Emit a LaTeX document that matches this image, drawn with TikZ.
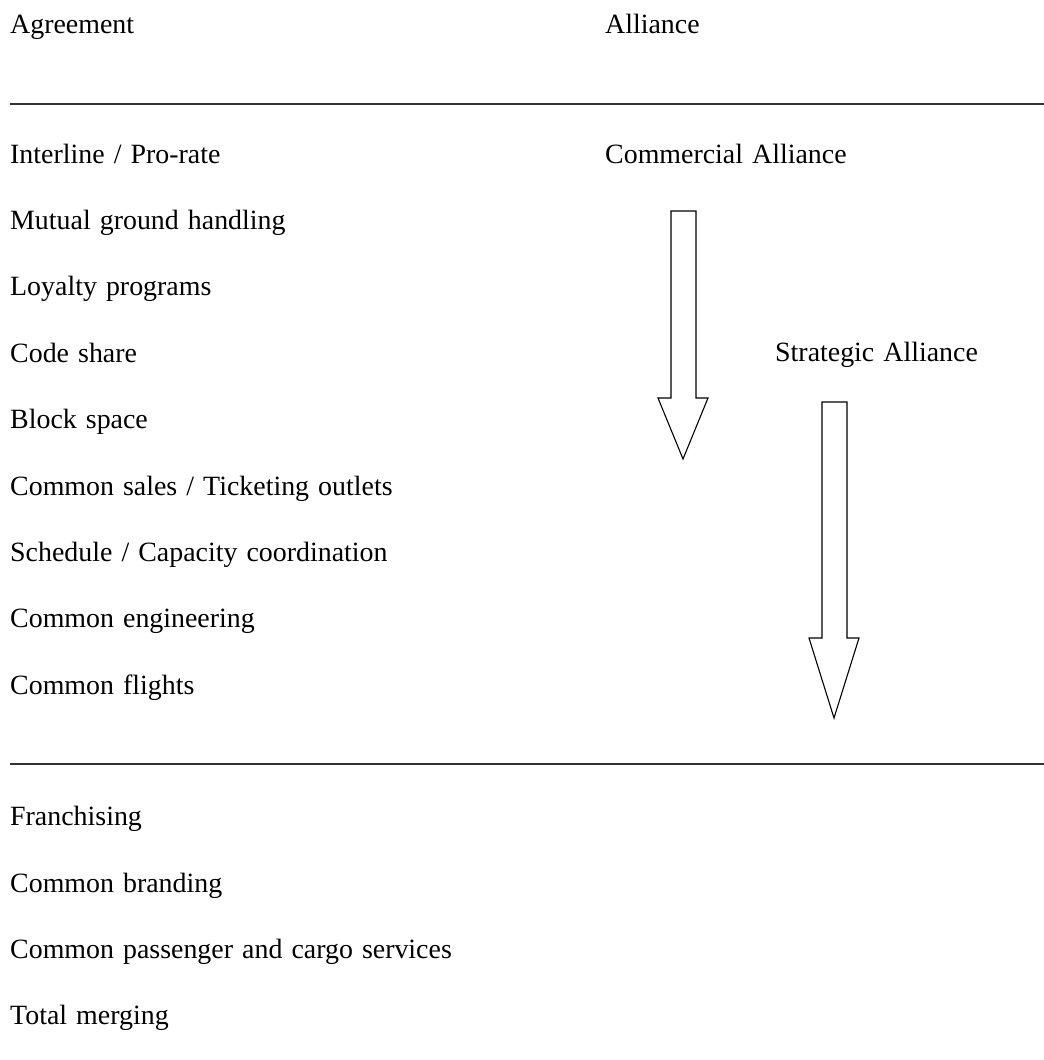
\documentclass[tikz,border=0pt]{standalone}
\usepackage{fontspec}
\setmainfont[WordSpace={1.3,1,1}]{Liberation Serif}
\usetikzlibrary{positioning}

\begin{document}
\begin{tikzpicture}[x=1bp,y=-1bp,node distance=40bp]
\tikzstyle{row}=[inner sep=0pt,text height=20bp,text depth=6bp,font=\fontsize{28}{32}\selectfont]
\tikzstyle{rule}=[line width=1.8bp,black!80]
\tikzstyle{blockarrow}=[line width=1.1bp,black,fill=white,line join=miter]
    \useasboundingbox (0,0) rectangle (1044,1060);
    \node[row,anchor=base west] (agree) at (10,33) {Agreement};
    \node[row,anchor=base west] (alli) at (605,33) {Alliance};
    \coordinate (top l) at (10,104);
    \coordinate (top r) at (1044,104);
    \draw[rule] (top l) -- (top r);
    \node[row,anchor=base west] (inter) at (10,163) {Interline / Pro-rate};
    \node[row,below=of inter.south west,anchor=north west] (mutual) {Mutual ground handling};
    \node[row,below=of mutual.south west,anchor=north west] (loyal) {Loyalty programs};
    \node[row,below=of loyal.south west,anchor=north west] (code) {Code share};
    \node[row,below=of code.south west,anchor=north west] (block) {Block space};
    \node[row,below=of block.south west,anchor=north west] (sales) {Common sales / Ticketing outlets};
    \node[row,below=of sales.south west,anchor=north west] (sched) {Schedule / Capacity coordination};
    \node[row,below=of sched.south west,anchor=north west] (engin) {Common engineering};
    \node[row,below=of engin.south west,anchor=north west] (flights) {Common flights};
    \coordinate (bot l) at (10,764);
    \coordinate (bot r) at (1044,764);
    \draw[rule] (bot l) -- (bot r);
    \node[row,below=105bp of flights.south west,anchor=north west] (franch) {Franchising};
    \node[row,below=of franch.south west,anchor=north west] (brand) {Common branding};
    \node[row,below=of brand.south west,anchor=north west] (cargo) {Common passenger and cargo services};
    \node[row,below=of cargo.south west,anchor=north west] (merge) {Total merging};
    % alliance column
    \node[row,anchor=base west] (comm) at (alli.base west |- inter.base) {Commercial Alliance};
    \node[row,anchor=base west] (strat) at (775,361) {Strategic Alliance};
    % arrows
    \draw[blockarrow] (671,211) -- (696,211) -- (696,398) -- (708,398) -- (683,459)
        -- (658,398) -- (671,398) -- cycle;
    \draw[blockarrow] (822,402) -- (847,402) -- (847,638) -- (859,638) -- (834,718)
        -- (809,638) -- (822,638) -- cycle;
\end{tikzpicture}
\end{document}
